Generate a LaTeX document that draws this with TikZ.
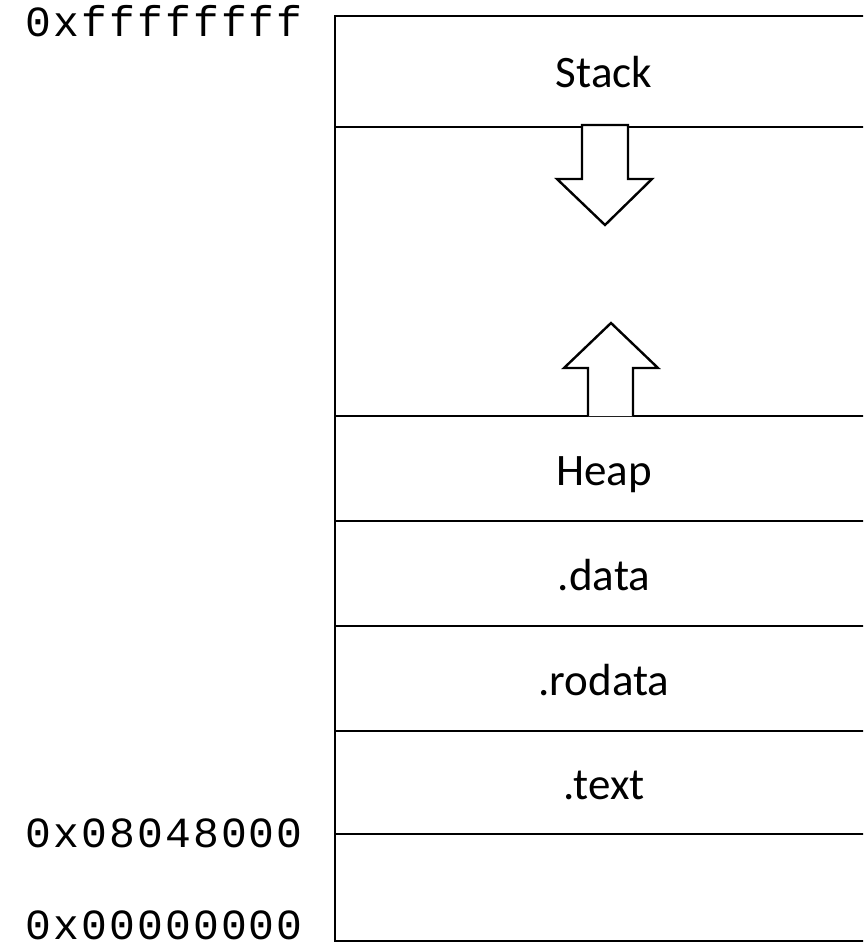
\documentclass[tikz,border=0pt]{standalone}
\usepackage{fontspec}
\setmainfont{Carlito}
\newfontfamily\addrfont[LetterSpace=5.0]{Liberation Mono}
\begin{document}
\begin{tikzpicture}[x=1pt,y=-1pt,line width=2.4pt]

\tikzstyle{addr}=[anchor=base east,font=\addrfont\fontsize{43}{43}\selectfont,inner sep=0pt];
\tikzstyle{sect}=[anchor=base,font=\fontsize{45}{45}\selectfont,inner sep=0pt];
\tikzstyle{bound}=[line width=2.4pt];
\tikzstyle{growarrow}=[line width=2.4pt,line join=miter,fill=white];

\useasboundingbox (0,0) rectangle (863,947);
\begin{scope}
\clip (0,0) rectangle (863,947);

% address column
\node[addr] (top) at (304,37) {0xffffffff};
\node[addr] (base) at (304,847) {0x08048000};
\node[addr] (zero) at (304,939) {0x00000000};

% memory layout
\draw[bound] (870,16) -- (335,16) -- (335,941) -- (870,941);
\draw[bound] (335,127) -- (870,127);
\draw[bound] (335,416) -- (870,416);
\draw[bound] (335,521) -- (870,521);
\draw[bound] (335,626) -- (870,626);
\draw[bound] (335,731) -- (870,731);
\draw[bound] (335,834) -- (870,834);

\node[sect] (stack) at (604,88) {Stack};
\node[sect] (heap) at (604,485) {Heap};
\node[sect] (data) at (604,590) {.data};
\node[sect] (rodata) at (604,695) {.rodata};
\node[sect] (text) at (604,799) {.text};

% growth directions
\draw[growarrow] (582,125) -- (628,125) -- (628,179) -- (652,179) -- (605,225)
  -- (557,179) -- (582,179) -- cycle;
\draw[growarrow] (588,416) -- (588,368) -- (564,368) -- (611,323) -- (658,368)
  -- (633,368) -- (633,416);
\end{scope}
\end{tikzpicture}
\end{document}
